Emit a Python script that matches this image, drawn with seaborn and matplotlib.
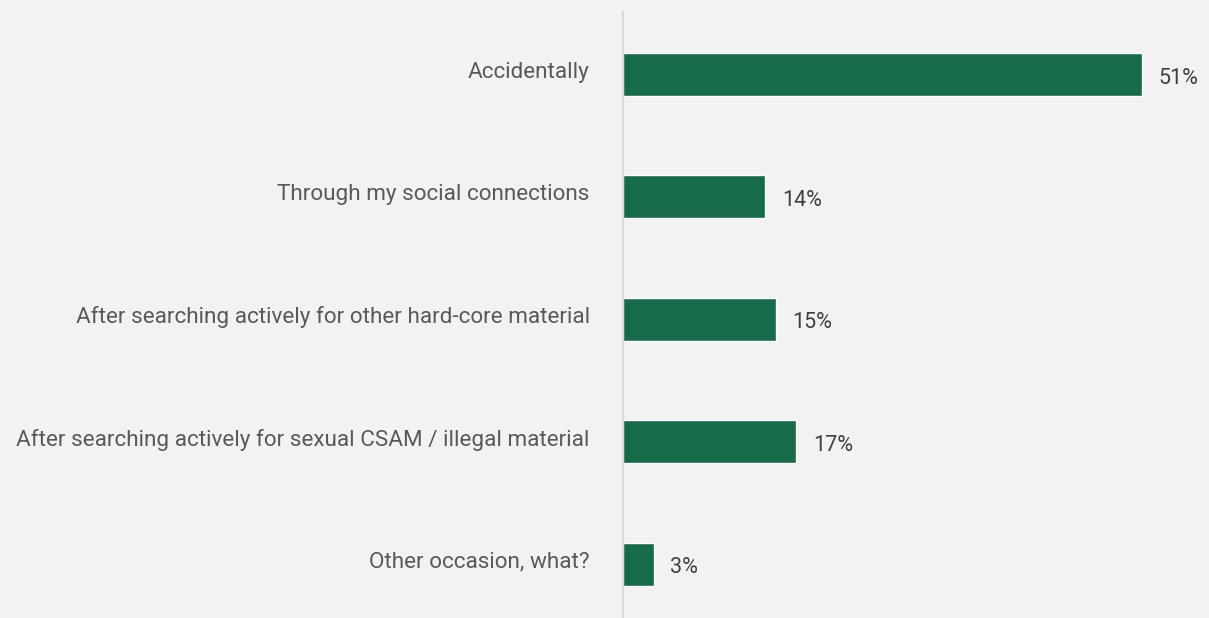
import matplotlib
matplotlib.use("Agg")
import matplotlib.pyplot as plt
import matplotlib.transforms as mtransforms
import seaborn as sns
import pandas as pd

categories = [
    "Accidentally",
    "Through my social connections",
    "After searching actively for other hard-core material",
    "After searching actively for sexual CSAM / illegal material",
    "Other occasion, what?",
]
values = [51, 14, 15, 17, 3]

BG = "#f2f2f2"
BAR = "#166b48"

sns.set_theme(style="white")
plt.rcParams["font.family"] = ["Roboto", "DejaVu Sans"]

df = pd.DataFrame({"category": categories, "value": values})

fig = plt.figure(figsize=(12.09, 6.18), dpi=100, facecolor=BG)
ax = fig.add_axes([623 / 1209, 0.0, 580 / 1209, 606 / 618])
ax.set_facecolor(BG)

sns.barplot(data=df, x="value", y="category", orient="h", color=BAR,
            width=0.35, saturation=1, ax=ax)

ax.set_xlim(0, 57)
ax.set_ylim(4.44, -0.51)

for i, v in enumerate(values):
    ax.text(v + 1.65, i + 0.03, f"{v}%", va="center", ha="left",
            fontsize=15.5, color="#404040")

ax.set_xlabel("")
ax.set_ylabel("")
ax.set_xticks([])
ax.tick_params(axis="y", length=0, pad=24, labelsize=16.2, labelcolor="#595959")
shift = mtransforms.ScaledTranslation(0, 0.045, fig.dpi_scale_trans)
for lab in ax.get_yticklabels():
    lab.set_transform(lab.get_transform() + shift)

for s in ["top", "right", "bottom"]:
    ax.spines[s].set_visible(False)
ax.spines["left"].set_color("#d9d9d9")
ax.spines["left"].set_linewidth(1.5)

fig.savefig("out.png", dpi=100, facecolor=BG)
